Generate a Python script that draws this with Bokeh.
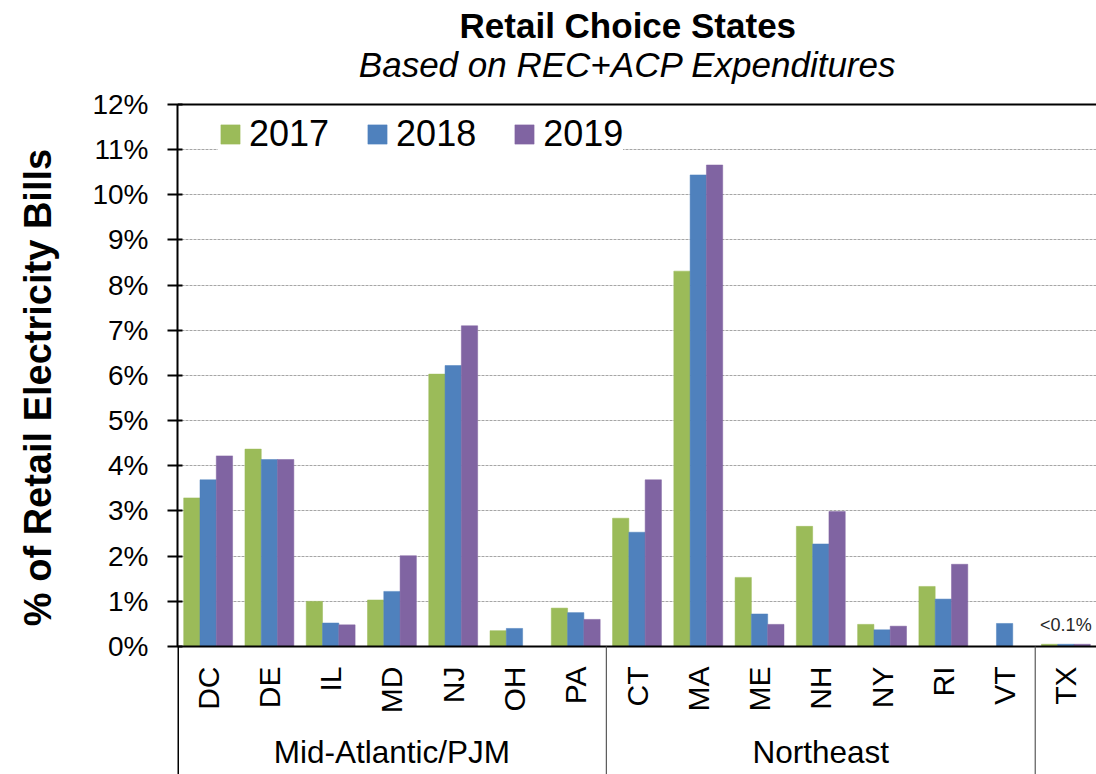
import numpy as np
from bokeh.plotting import figure
from bokeh.models import Range1d, FixedTicker, Legend, LegendItem, Span
from bokeh.embed import file_html
from bokeh.resources import INLINE
from bokeh.core.properties import value

# ---------------- data ----------------
states = ["DC", "DE", "IL", "MD", "NJ", "OH", "PA", "CT", "MA", "ME", "NH", "NY", "RI", "VT", "TX"]
regions = ["Mid-Atlantic/PJM", "Northeast", ""]
region_sizes = [7, 7, 1]
years = ["2017", "2018", "2019"]
v2017 = [3.29, 4.37, 1.00, 1.03, 6.03, 0.35, 0.85, 2.84, 8.31, 1.53, 2.66, 0.49, 1.33, 0.00, 0.05]
v2018 = [3.69, 4.14, 0.52, 1.22, 6.22, 0.40, 0.75, 2.53, 10.44, 0.72, 2.27, 0.37, 1.05, 0.51, 0.05]
v2019 = [4.22, 4.14, 0.48, 2.01, 7.10, 0.00, 0.60, 3.69, 10.66, 0.49, 2.99, 0.45, 1.82, 0.00, 0.05]
series = [v2017, v2018, v2019]
colors = ["#9BBB59", "#4F81BD", "#8064A2"]
title_text = "Retail Choice States"
subtitle_text = "Based on REC+ACP Expenditures"
ylabel_text = "% of Retail Electricity Bills"
yticks = list(range(0, 13))
tx_note = "<0.1%"
tx_note_value = 0.48

FONT = "Liberation Sans"

# ---------------- geometry ----------------
W, H = 1096, 774
left_border = 177
px_per_unit = 45.17
zero_px = 646  # px from top where 0% sits
y_top = zero_px / px_per_unit
y_bot = -(H - zero_px) / px_per_unit
n = len(states)

p = figure(width=W, height=H, output_backend="svg", toolbar_location=None,
           x_range=Range1d(0, n), y_range=Range1d(y_bot, y_top),
           x_axis_location=None, min_border_left=left_border, min_border_right=0,
           min_border_top=0, min_border_bottom=0, outline_line_color=None,
           background_fill_color="white", border_fill_color="white")

# grid
p.xgrid.visible = False
p.ygrid.ticker = FixedTicker(ticks=yticks[1:-1])
p.ygrid.grid_line_color = "#A6A6A6"
p.ygrid.grid_line_dash = "3 1"
p.ygrid.grid_line_width = 1

# y axis
ya = p.yaxis[0]
ya.ticker = FixedTicker(ticks=yticks)
ya.bounds = (0, 12)
ya.major_label_overrides = {t: f"{t}%" for t in yticks}
ya.major_label_text_font = FONT
ya.major_label_text_font_size = "28px"
ya.major_label_text_color = "black"
ya.major_label_standoff = 19
ya.axis_line_width = 2
ya.axis_line_color = "black"
ya.major_tick_line_width = 2
ya.major_tick_line_color = "black"
ya.major_tick_out = 10
ya.major_tick_in = 5
ya.minor_tick_line_color = None
ya.axis_label = ylabel_text
ya.axis_label_text_font = FONT
ya.axis_label_text_font_style = "bold"
ya.axis_label_text_font_size = "38px"
ya.axis_label_text_color = "black"
ya.axis_label_standoff = 30

# bars
bw = 0.266
centers = np.arange(n) + 0.5
renderers = []
for k, (vals, col) in enumerate(zip(series, colors)):
    r = p.vbar(x=centers + (k - 1) * bw, top=vals, bottom=0, width=bw,
               fill_color=col, line_color=col, line_width=0.5)
    renderers.append(r)

# x axis line at 0
p.segment(x0=[0], y0=[0], x1=[n], y1=[0], line_color="black", line_width=2)

# group separators below the axis
bounds = np.concatenate([[0], np.cumsum(region_sizes)])
p.segment(x0=bounds[:1], y0=[0], x1=bounds[:1], y1=[y_bot], line_color="black", line_width=3)
p.segment(x0=bounds[1:-1], y0=[0] * (len(bounds) - 2), x1=bounds[1:-1], y1=[y_bot] * (len(bounds) - 2),
          line_color="#595959", line_width=1.2)

# category labels
p.text(x=centers, y=[-0.443] * n, text=states, angle=np.pi / 2,
       text_align="right", text_baseline="middle",
       text_font=value(FONT), text_font_size="30px", text_color="black")

# region labels
reg_centers = (bounds[:-1] + bounds[1:]) / 2
p.text(x=reg_centers, y=[-2.34] * len(regions), text=regions,
       text_align="center", text_baseline="alphabetic",
       text_font=value(FONT), text_font_size="31.5px", text_color="black")

# TX note
p.text(x=[centers[-1]], y=[tx_note_value], text=[tx_note], text_align="center",
       text_baseline="alphabetic", text_font=value(FONT), text_font_size="18px",
       text_color="#262626")

# titles
p.text(x=[7.35], y=[13.75], text=[title_text], text_align="center", text_baseline="alphabetic",
       text_font=value(FONT), text_font_size="35px", text_font_style="bold", text_color="black")
p.text(x=[7.35], y=[12.89], text=[subtitle_text], text_align="center", text_baseline="alphabetic",
       text_font=value(FONT), text_font_size="35px", text_font_style="italic", text_color="black")

# legend
legend = Legend(items=[LegendItem(label=y, renderers=[r]) for y, r in zip(years, renderers)],
                orientation="horizontal", location=(41, 619),
                label_text_font=FONT, label_text_font_size="36px", label_text_color="black",
                glyph_width=24, glyph_height=24, label_standoff=7, spacing=36,
                padding=10, margin=0, border_line_color=None,
                background_fill_color="white", background_fill_alpha=1.0)
p.add_layout(legend)

# top border line of plot area
p.add_layout(Span(location=12, dimension="width", line_color="black", line_width=2, level="overlay"))

open("out.html", "w").write(file_html(p, INLINE))
